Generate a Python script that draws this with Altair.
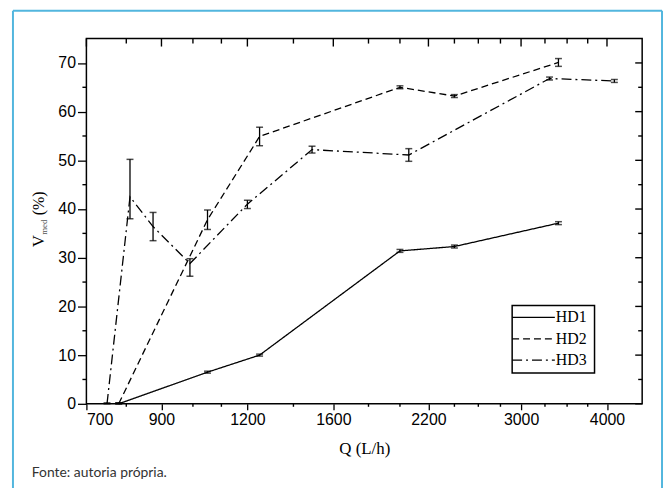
import altair as alt
import pandas as pd

# ---------------- data ----------------
series_names = ["HD1", "HD2", "HD3"]

hd1_q = [780, 1050, 1250, 2000, 2400, 3400]
hd1_v = [0.0, 6.5, 10.0, 31.4, 32.3, 37.1]
hd1_lo = [-0.2, 6.3, 9.8, 31.1, 32.0, 36.8]
hd1_hi = [0.2, 6.7, 10.2, 31.7, 32.6, 37.4]

hd2_q = [780, 1050, 1250, 2000, 2400, 3400]
hd2_v = [0.0, 37.8, 54.9, 65.0, 63.2, 70.1]
hd2_lo = [-0.2, 35.8, 53.0, 64.7, 62.9, 69.3]
hd2_hi = [0.2, 39.8, 56.8, 65.3, 63.5, 70.9]

hd3_q = [750, 810, 875, 990, 1200, 1490, 2060, 3300, 4100]
hd3_v = [0.0, 42.5, 36.4, 28.8, 41.0, 52.2, 51.1, 66.8, 66.3]
hd3_lo = [-0.2, 38.0, 33.5, 26.2, 40.1, 51.5, 49.8, 66.5, 66.0]
hd3_hi = [0.2, 50.2, 39.3, 29.8, 41.8, 52.9, 52.4, 67.1, 66.6]

x_major = [700, 900, 1200, 1600, 2200, 3000, 4000]
x_minor = [800, 1000, 1100, 1400, 1800, 2000, 2400, 2600, 2800, 3250, 3500, 3750]
y_major = [0, 10, 20, 30, 40, 50, 60, 70]
y_minor = [5, 15, 25, 35, 45, 55, 65]

x_title = "Q (L/h)"
y_title_parts = ["V", "med", "(%)"]
caption = "Fonte: autoria própria."

# ---------------- table ----------------
rows = []
for name, qs, vs, los, his in [
    ("HD1", hd1_q, hd1_v, hd1_lo, hd1_hi),
    ("HD2", hd2_q, hd2_v, hd2_lo, hd2_hi),
    ("HD3", hd3_q, hd3_v, hd3_lo, hd3_hi),
]:
    for q, v, lo, hi in zip(qs, vs, los, his):
        rows.append({"series": name, "Q": q, "V": v, "lo": max(lo, 0.0), "hi": hi})
df = pd.DataFrame(rows)

W, H = 560, 368
xscale = alt.Scale(type="log", domain=[700, 4500], nice=False)
yscale = alt.Scale(domain=[0, 75], nice=False, zero=False)
dash_scale = alt.Scale(domain=series_names, range=[[1, 0], [7, 4], [10, 4, 2, 4]])

x_axis = alt.Axis(
    values=x_major, format="d", tickSize=6, labelPadding=2, domain=False, grid=False,
    title=x_title, titleFont="Liberation Serif", titleFontSize=17,
    titleFontWeight="normal", titlePadding=13)
y_axis = alt.Axis(
    values=y_major, format="d", tickSize=9, labelPadding=2, domain=False, grid=False,
    title=None)


def X(field):
    return alt.X(field, scale=xscale, axis=x_axis)


def Y(field):
    return alt.Y(field, scale=yscale, axis=y_axis)


base = alt.Chart(df)

lines = base.mark_line(color="black", strokeWidth=1.3).encode(
    x=X("Q:Q"), y=Y("V:Q"),
    strokeDash=alt.StrokeDash("series:N", scale=dash_scale, legend=None),
)

err = base.mark_rule(color="black", strokeWidth=1.3).encode(
    x=X("Q:Q"), y=Y("lo:Q"), y2="hi:Q",
)
cap_lo = base.mark_tick(color="black", orient="horizontal", size=7, thickness=1.5).encode(
    x=X("Q:Q"), y=Y("lo:Q"),
)
cap_hi = base.mark_tick(color="black", orient="horizontal", size=7, thickness=1.5).encode(
    x=X("Q:Q"), y=Y("hi:Q"),
)

# extra tick marks (top / right mirrors and minor ticks)
xmaj_df = pd.DataFrame({"Q": x_major})
xmin_df = pd.DataFrame({"Q": x_minor})
ymaj_df = pd.DataFrame({"V": y_major})
ymin_df = pd.DataFrame({"V": y_minor})


def xticks(data, y0, y1):
    return alt.Chart(data).mark_rule(color="black", strokeWidth=1.4).encode(
        x=X("Q:Q"), y=alt.value(y0), y2=alt.value(y1))


def yticks(data, x0, x1):
    return alt.Chart(data).mark_rule(color="black", strokeWidth=1.4).encode(
        y=Y("V:Q"), x=alt.value(x0), x2=alt.value(x1))


tick_layers = [
    xticks(xmaj_df, 0, 8),
    xticks(xmin_df, 0, 5),
    xticks(xmin_df, H, H + 3),
    yticks(ymaj_df, W, W - 7),
    yticks(ymin_df, W, W - 4),
    yticks(ymin_df, 0, -4),
]

# y title with subscript
one = pd.DataFrame({"t": [0]})
ytitle = [
    alt.Chart(one).mark_text(text=y_title_parts[0], angle=270, font="Liberation Serif",
                             fontSize=17, color="black", align="center", baseline="middle")
    .encode(x=alt.value(-48), y=alt.value(204)),
    alt.Chart(one).mark_text(text=y_title_parts[1], angle=270, font="Liberation Serif",
                             fontSize=9, color="#555", align="center", baseline="middle")
    .encode(x=alt.value(-43), y=alt.value(190)),
    alt.Chart(one).mark_text(text=y_title_parts[2], angle=270, font="Liberation Serif",
                             fontSize=16, color="black", align="center", baseline="middle")
    .encode(x=alt.value(-48), y=alt.value(166)),
]

# legend box
lg_x0, lg_x1, lg_y0, lg_y1 = 429, 512, 269, 337
legend_layers = [
    alt.Chart(one).mark_rect(fill="white", stroke="black", strokeWidth=1.5)
    .encode(x=alt.value(lg_x0), x2=alt.value(lg_x1), y=alt.value(lg_y0), y2=alt.value(lg_y1))
]
dashes = [[1, 0], [7, 4], [10, 4, 2, 4]]
for i, name in enumerate(series_names):
    yy = 281 + i * 21.5
    legend_layers.append(
        alt.Chart(one).mark_rule(color="black", strokeWidth=1.3, strokeDash=dashes[i])
        .encode(x=alt.value(lg_x0), x2=alt.value(472), y=alt.value(yy))
    )
    legend_layers.append(
        alt.Chart(pd.DataFrame({"t": [name]})).mark_text(
            font="Liberation Serif", fontSize=16, color="black", align="left", baseline="middle")
        .encode(text="t:N", x=alt.value(473), y=alt.value(yy))
    )

# outer frame and caption
frame_col = "#52b6de"
frame = [
    alt.Chart(one).mark_rule(color=frame_col, strokeWidth=2)
    .encode(x=alt.value(-74), x2=alt.value(580), y=alt.value(-28)),
    alt.Chart(one).mark_rule(color=frame_col, strokeWidth=2)
    .encode(x=alt.value(-74), y=alt.value(-28), y2=alt.value(460)),
    alt.Chart(one).mark_rule(color=frame_col, strokeWidth=2)
    .encode(x=alt.value(580), y=alt.value(-28), y2=alt.value(460)),
    alt.Chart(pd.DataFrame({"t": [caption]})).mark_text(
        font="Lato", fontSize=14, color="#333", align="left", baseline="middle")
    .encode(text="t:N", x=alt.value(-55), y=alt.value(438)),
]

chart = alt.layer(
    lines, err, cap_lo, cap_hi, *tick_layers, *ytitle, *legend_layers, *frame
).properties(
    width=W, height=H,
    background="white",
    autosize=alt.AutoSizeParams(type="none"),
    padding={"left": 79, "top": 29, "right": 22, "bottom": 83},
).configure_view(
    stroke="black", strokeWidth=1.5
).configure_axis(
    labelFont="Liberation Sans", labelFontSize=16, labelColor="black",
    tickColor="black", tickWidth=1.3, grid=False, titleColor="black",
)

chart.save("out.html", embed_options={"renderer": "svg", "actions": False})
